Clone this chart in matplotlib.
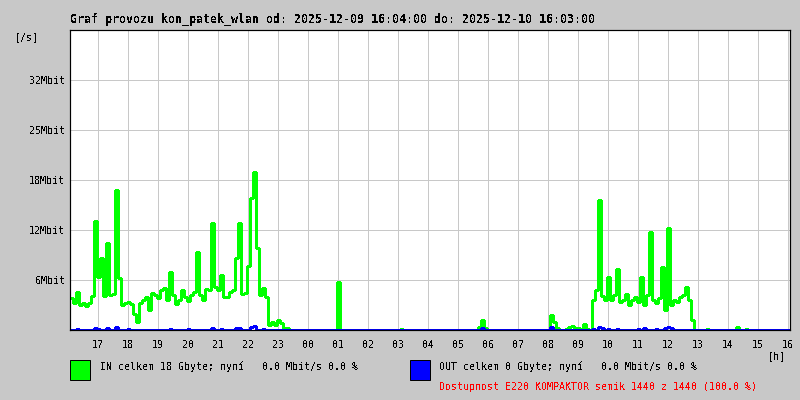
import numpy as np
import matplotlib
matplotlib.use("Agg")
import matplotlib.pyplot as plt
from matplotlib.patches import Rectangle

plt.rcParams['font.family'] = ['DejaVu Sans Mono']
plt.rcParams['text.antialiased'] = False

title = "Graf provozu kon_patek_wlan od: 2025-12-09 16:04:00 do: 2025-12-10 16:03:00"
start_minute_of_hour = 4          # chart starts at 16:04
sample_minutes = 6                # one value per 6 minutes
hour_labels = ["17", "18", "19", "20", "21", "22", "23", "00", "01", "02", "03", "04",
               "05", "06", "07", "08", "09", "10", "11", "12", "13", "14", "15", "16"]
ytick_vals = [6.25, 12.5, 18.75, 25.0, 31.25]
ytick_labels = ["6Mbit", "12Mbit", "18Mbit", "25Mbit", "32Mbit"]
y_max = 37.5

# IN traffic [Mbit/s], one value per 6 minutes starting 16:04
in_mbit = [
    4.0, 3.4, 4.8, 3.1, 3.4, 3.0, 3.4, 4.3, 13.6, 6.6,
    9.0, 4.3, 10.9, 4.4, 4.5, 17.5, 6.5, 3.1, 3.4, 3.5,
    3.3, 2.0, 1.0, 3.4, 3.8, 4.1, 2.5, 4.6, 4.4, 4.0,
    5.0, 5.3, 3.8, 7.3, 4.4, 3.3, 3.8, 5.0, 4.1, 3.6,
    4.4, 4.8, 9.8, 4.4, 3.8, 5.1, 5.0, 13.4, 5.4, 5.0,
    6.9, 4.1, 4.1, 4.8, 5.0, 9.0, 13.4, 4.5, 4.6, 8.0,
    16.5, 19.8, 10.3, 4.4, 5.3, 4.1, 0.6, 1.0, 0.6, 1.3,
    0.9, 0.3, 0.3, 0.0, 0.0, 0.0, 0.0, 0.0, 0.0, 0.0,
    0.0, 0.0, 0.0, 0.0, 0.0, 0.0, 0.0, 0.0, 0.0, 6.0,
    0.0, 0.0, 0.0, 0.0, 0.0, 0.0, 0.0, 0.0, 0.0, 0.0,
    0.0, 0.0, 0.0, 0.0, 0.0, 0.0, 0.0, 0.0, 0.0, 0.0,
    0.1, 0.0, 0.0, 0.0, 0.0, 0.0, 0.0, 0.0, 0.0, 0.0,
    0.0, 0.0, 0.0, 0.0, 0.0, 0.0, 0.0, 0.0, 0.0, 0.0,
    0.0, 0.0, 0.0, 0.0, 0.0, 0.0, 0.4, 1.3, 0.3, 0.0,
    0.0, 0.0, 0.0, 0.0, 0.0, 0.0, 0.0, 0.0, 0.0, 0.0,
    0.0, 0.0, 0.0, 0.0, 0.0, 0.0, 0.0, 0.0, 0.0, 0.0,
    1.9, 1.0, 0.3, 0.0, 0.0, 0.1, 0.4, 0.5, 0.3, 0.3,
    0.0, 0.8, 0.1, 0.0, 3.8, 5.0, 16.3, 4.3, 3.8, 6.6,
    3.8, 4.4, 7.6, 3.5, 3.8, 4.5, 3.1, 3.8, 4.1, 3.5,
    6.6, 3.1, 4.4, 12.3, 3.8, 3.4, 4.0, 7.9, 2.5, 12.8,
    3.1, 3.8, 3.5, 4.1, 4.4, 5.4, 3.8, 1.3, 0.0, 0.0,
    0.0, 0.0, 0.1, 0.0, 0.0, 0.0, 0.0, 0.0, 0.0, 0.0,
    0.0, 0.0, 0.4, 0.0, 0.0, 0.1, 0.0, 0.0, 0.0, 0.0,
    0.0, 0.0, 0.0, 0.0, 0.0, 0.0, 0.0, 0.0, 0.0, 0.0,
]

# OUT traffic [Mbit/s]
out_mbit = [
    0.0, 0.0, 0.1, 0.0, 0.0, 0.0, 0.0, 0.0, 0.25, 0.1,
    0.0, 0.0, 0.25, 0.0, 0.0, 0.4, 0.0, 0.0, 0.0, 0.1,
    0.0, 0.0, 0.0, 0.0, 0.0, 0.0, 0.0, 0.0, 0.0, 0.0,
    0.0, 0.0, 0.0, 0.1, 0.0, 0.0, 0.0, 0.0, 0.0, 0.1,
    0.0, 0.0, 0.0, 0.0, 0.0, 0.0, 0.0, 0.25, 0.0, 0.0,
    0.1, 0.0, 0.0, 0.0, 0.0, 0.25, 0.25, 0.0, 0.0, 0.0,
    0.4, 0.5, 0.0, 0.0, 0.1, 0.0, 0.0, 0.0, 0.0, 0.0,
    0.0, 0.0, 0.0, 0.0, 0.0, 0.0, 0.0, 0.0, 0.0, 0.0,
    0.0, 0.0, 0.0, 0.0, 0.0, 0.0, 0.0, 0.0, 0.0, 0.0,
    0.0, 0.0, 0.0, 0.0, 0.0, 0.0, 0.0, 0.0, 0.0, 0.0,
    0.0, 0.0, 0.0, 0.0, 0.0, 0.0, 0.0, 0.0, 0.0, 0.0,
    0.0, 0.0, 0.0, 0.0, 0.0, 0.0, 0.0, 0.0, 0.0, 0.0,
    0.0, 0.0, 0.0, 0.0, 0.0, 0.0, 0.0, 0.0, 0.0, 0.0,
    0.0, 0.0, 0.0, 0.0, 0.0, 0.0, 0.0, 0.25, 0.0, 0.0,
    0.0, 0.0, 0.0, 0.0, 0.0, 0.0, 0.0, 0.0, 0.0, 0.0,
    0.0, 0.0, 0.0, 0.0, 0.0, 0.0, 0.0, 0.0, 0.0, 0.0,
    0.4, 0.0, 0.0, 0.0, 0.0, 0.0, 0.0, 0.0, 0.0, 0.0,
    0.0, 0.0, 0.0, 0.0, 0.1, 0.0, 0.4, 0.25, 0.0, 0.1,
    0.0, 0.0, 0.1, 0.0, 0.0, 0.0, 0.0, 0.0, 0.0, 0.1,
    0.0, 0.25, 0.0, 0.0, 0.0, 0.1, 0.0, 0.0, 0.25, 0.4,
    0.25, 0.0, 0.0, 0.0, 0.0, 0.0, 0.0, 0.0, 0.0, 0.0,
    0.0, 0.0, 0.0, 0.0, 0.0, 0.0, 0.0, 0.0, 0.0, 0.0,
    0.0, 0.0, 0.0, 0.0, 0.0, 0.0, 0.0, 0.0, 0.0, 0.0,
    0.0, 0.0, 0.0, 0.0, 0.0, 0.0, 0.0, 0.0, 0.0, 0.0,
]

in_text = "IN celkem 18 Gbyte; nyní   0.0 Mbit/s 0.0 %"
out_text = "OUT celkem 0 Gbyte; nyní   0.0 Mbit/s 0.0 %"
avail_text = "Dostupnost E220 KOMPAKTOR semik 1440 z 1440 (100.0 %)"

BG = '#c8c8c8'
W, H = 800, 400
PX = 0.72  # one pixel in points at 100 dpi

def fx(px):
    return px / W

def fy(py):
    return 1 - py / H

fig = plt.figure(figsize=(8, 4), dpi=100, facecolor=BG)
ax = fig.add_axes([fx(70), fy(330), 720 / W, 300 / H])
ax.set_facecolor('white')

n = len(in_mbit)
t = np.arange(n + 1) * sample_minutes
total = n * sample_minutes
y_in = np.append(in_mbit, in_mbit[-1])
y_out = np.append(out_mbit, out_mbit[-1])

ax.step(t, y_in, where='post', color='#00ff00', lw=1.0, antialiased=False, zorder=3)
ax.step(t, y_out, where='post', color='#0000ff', lw=1.0, antialiased=False, zorder=4)

ax.set_xlim(0, total)
ax.set_ylim(0, y_max)

hour_pos = [(60 - start_minute_of_hour) + 60 * i for i in range(len(hour_labels))]
ax.set_xticks(hour_pos)
ax.set_xticklabels(hour_labels, fontsize=7.2)
ax.set_yticks(ytick_vals)
ax.set_yticklabels(ytick_labels, fontsize=7.2)
ax.tick_params(axis='x', length=0, pad=7)
ax.tick_params(axis='y', length=0, pad=3.5)
ax.grid(True, color='#c8c8c8', lw=PX, antialiased=False)
ax.set_axisbelow(True)
for s in ax.spines.values():
    s.set_color('black')
    s.set_linewidth(PX * 1.2)
    s.set_zorder(5)

fig.text(fx(70), fy(19), title, fontsize=8.4, fontweight='bold', ha='left', va='center')
fig.text(fx(27), fy(37), "[/s]", fontsize=7.2, ha='center', va='center')
fig.text(fx(777), fy(356), "[h]", fontsize=7.2, ha='center', va='center')

fig.add_artist(Rectangle((fx(70), fy(380)), 20 / W, 20 / H, facecolor='#00ff00',
                         edgecolor='black', lw=PX, transform=fig.transFigure))
fig.add_artist(Rectangle((fx(410), fy(380)), 20 / W, 20 / H, facecolor='#0000ff',
                         edgecolor='black', lw=PX, transform=fig.transFigure))
fig.text(fx(100), fy(367), in_text, fontsize=7.2, ha='left', va='center')
fig.text(fx(439), fy(367), out_text, fontsize=7.2, ha='left', va='center')
fig.text(fx(439), fy(387), avail_text, fontsize=7.2, ha='left', va='center', color='#ff0000')

fig.savefig('out.png', dpi=100, facecolor=BG)
